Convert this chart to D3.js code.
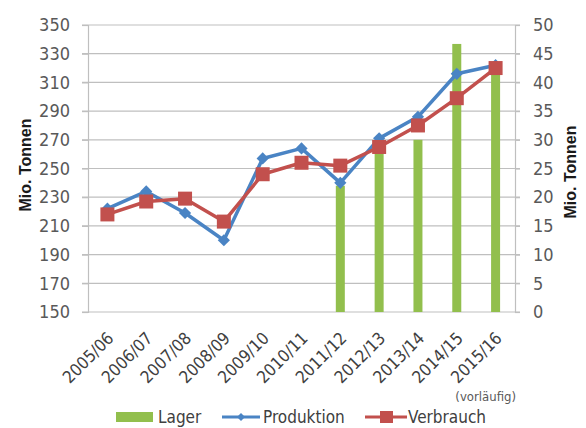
<!DOCTYPE html>
<html>
<head>
<meta charset="utf-8">
<script src="https://cdn.jsdelivr.net/npm/d3@7"></script>
<style>
  body { margin: 0; background: #fff; }
  svg { font-family: "DejaVu Sans Condensed", "Liberation Sans", sans-serif; }
</style>
</head>
<body>
<script>
'use strict';

// values
const years = ['2005/06', '2006/07', '2007/08', '2008/09', '2009/10', '2010/11',
  '2011/12', '2012/13', '2013/14', '2014/15', '2015/16'];
const produktion = [222, 234, 219, 200, 257, 264, 240, 271, 286, 316, 322];
const verbrauch = [218, 227, 229, 213, 246, 254, 252, 265, 280, 299, 320];
const lager = [null, null, null, null, null, null, 22, 28, 30, 46.7, 42];
const leftTicks = [150, 170, 190, 210, 230, 250, 270, 290, 310, 330, 350];
const rightTicks = [0, 5, 10, 15, 20, 25, 30, 35, 40, 45, 50];

(function() {
  let width = 586;
  let height = 428;
  let left = 88, right = 515, top = 25, bottom = 312;
  let condensed = '"DejaVu Sans Condensed", "Liberation Sans", sans-serif';

  let svg = d3.select('body').append('svg')
    .attr('width', width)
    .attr('height', height);

  let xScale = d3.scaleBand().domain(years).range([left, right]);
  let yLeft = d3.scaleLinear().domain([150, 350]).range([bottom, top]);
  let yRight = d3.scaleLinear().domain([0, 50]).range([bottom, top]);
  let cx = d => xScale(d) + xScale.bandwidth() / 2;

  // gridlines
  svg.append('g').selectAll('line')
    .data(leftTicks)
    .enter().append('line')
    .attr('x1', left - 6).attr('x2', right + 5)
    .attr('y1', d => yLeft(d)).attr('y2', d => yLeft(d))
    .attr('stroke', '#bfbfbf').attr('stroke-width', 1.2);

  // axes
  let axisL = svg.append('g')
    .attr('transform', 'translate(' + left + ',0)')
    .call(d3.axisLeft(yLeft).tickValues(leftTicks).tickSize(6).tickPadding(12));
  let axisR = svg.append('g')
    .attr('transform', 'translate(' + right + ',0)')
    .call(d3.axisRight(yRight).tickValues(rightTicks).tickSize(5).tickPadding(13));
  [axisL, axisR].forEach(function(a) {
    a.select('.domain').attr('stroke', '#bfbfbf').attr('stroke-width', 1.2);
    a.selectAll('.tick line').attr('stroke', '#bfbfbf').attr('stroke-width', 1.2);
    a.selectAll('.tick text')
      .attr('fill', '#595959')
      .style('font-size', '18px')
      .style('font-family', condensed);
  });

  // x labels
  let axisB = svg.append('g')
    .attr('transform', 'translate(0,' + bottom + ')')
    .call(d3.axisBottom(xScale).tickSize(0));
  axisB.select('.domain').remove();
  axisB.selectAll('.tick text')
    .attr('text-anchor', 'end')
    .attr('transform', 'translate(1,21) rotate(-45)')
    .attr('dy', '0.35em')
    .attr('fill', '#404040')
    .style('font-size', '17px')
    .style('font-family', condensed);

  // bars
  let barW = 9;
  svg.append('g').selectAll('rect')
    .data(years.map((y, i) => ({ year: y, v: lager[i] })).filter(d => d.v !== null))
    .enter().append('rect')
    .attr('x', d => cx(d.year) - barW / 2)
    .attr('width', barW)
    .attr('y', d => yRight(d.v))
    .attr('height', d => bottom - yRight(d.v))
    .attr('fill', '#92bf4d');

  let line = d3.line().x(d => cx(d.year)).y(d => yLeft(d.v));

  // produktion
  let prodData = years.map((y, i) => ({ year: y, v: produktion[i] }));
  svg.append('path').datum(prodData)
    .attr('d', line)
    .attr('fill', 'none').attr('stroke', '#4a84c4').attr('stroke-width', 3.5)
    .attr('stroke-linejoin', 'round');
  svg.append('g').selectAll('path')
    .data(prodData)
    .enter().append('path')
    .attr('d', d3.symbol().type(d3.symbolDiamond2).size(95))
    .attr('transform', d => 'translate(' + cx(d.year) + ',' + yLeft(d.v) + ')')
    .attr('fill', '#4a84c4');

  // verbrauch
  let verbData = years.map((y, i) => ({ year: y, v: verbrauch[i] }));
  svg.append('path').datum(verbData)
    .attr('d', line)
    .attr('fill', 'none').attr('stroke', '#c2504d').attr('stroke-width', 3.5)
    .attr('stroke-linejoin', 'round');
  svg.append('g').selectAll('rect')
    .data(verbData)
    .enter().append('rect')
    .attr('x', d => cx(d.year) - 7)
    .attr('y', d => yLeft(d.v) - 7)
    .attr('width', 14).attr('height', 14)
    .attr('fill', '#c2504d');

  // axis titles
  svg.append('text')
    .attr('transform', 'translate(31,165) rotate(-90)')
    .attr('text-anchor', 'middle')
    .style('font-size', '16px').style('font-weight', 'bold')
    .style('font-family', '"Liberation Sans", Arial, sans-serif')
    .attr('fill', '#1a1a1a')
    .text('Mio. Tonnen');
  svg.append('text')
    .attr('transform', 'translate(576,172) rotate(-90)')
    .attr('text-anchor', 'middle')
    .style('font-size', '16px').style('font-weight', 'bold')
    .style('font-family', '"Liberation Sans", Arial, sans-serif')
    .attr('fill', '#1a1a1a')
    .text('Mio. Tonnen');

  svg.append('text')
    .attr('x', 516).attr('y', 401)
    .attr('text-anchor', 'end')
    .attr('fill', '#595959')
    .style('font-size', '13px')
    .style('font-family', condensed)
    .text('(vorläufig)');

  // legend
  let lg = svg.append('g').attr('transform', 'translate(0,417)');
  lg.append('rect').attr('x', 116).attr('y', -5).attr('width', 37).attr('height', 10).attr('fill', '#92bf4d');
  lg.append('line').attr('x1', 222).attr('x2', 260).attr('y1', 0).attr('y2', 0)
    .attr('stroke', '#4a84c4').attr('stroke-width', 3);
  lg.append('path').attr('d', d3.symbol().type(d3.symbolDiamond2).size(40))
    .attr('transform', 'translate(241,0)').attr('fill', '#4a84c4');
  lg.append('line').attr('x1', 365).attr('x2', 407).attr('y1', 0).attr('y2', 0)
    .attr('stroke', '#c2504d').attr('stroke-width', 3);
  lg.append('rect').attr('x', 380).attr('y', -6).attr('width', 13).attr('height', 12).attr('fill', '#c2504d');
  let names = [['Lager', 158], ['Produktion', 263], ['Verbrauch', 408]];
  lg.selectAll('text.lbl')
    .data(names)
    .enter().append('text')
    .attr('class', 'lbl')
    .attr('x', d => d[1]).attr('y', 0).attr('dy', '0.35em')
    .attr('fill', '#404040')
    .style('font-size', '17px')
    .style('font-family', condensed)
    .text(d => d[0]);
})();
</script>
</body>
</html>
